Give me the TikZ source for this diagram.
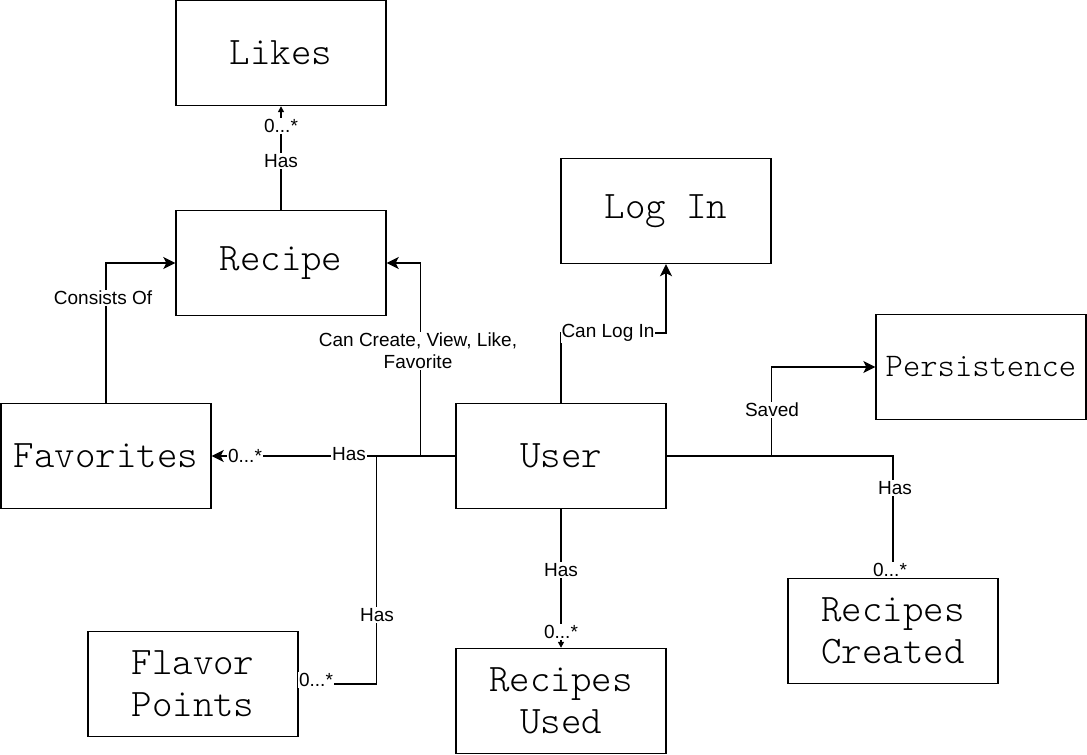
\documentclass[tikz,border=0pt]{standalone}
\usepackage{fontspec}
\setmainfont{Liberation Sans}
\newfontfamily\boxfont{Latin Modern Mono Light}
\usetikzlibrary{arrows.meta}
\begin{document}
\begin{tikzpicture}[x=1pt,y=-1pt,
  entity/.style={draw, line width=1.4pt, minimum width=210pt, minimum height=105pt,
     inner sep=0pt, align=center, font=\boxfont\fontsize{39}{42}\selectfont},
  conn/.style={line width=1.4pt},
  bigtip/.style={conn, -{Stealth[length=12pt,width=12pt,inset=3pt]}},
  smalltip/.style={conn, -{Triangle[length=6pt,width=6pt]}},
  lbl/.style={fill=white, inner sep=1pt, font=\fontsize{19}{22}\selectfont, align=center}]
\useasboundingbox (0,0) rectangle (1087,755);
\fill[white] (0,0) rectangle (1087,755);

\node[entity] (likes)   at (281,53)   {Likes};
\node[entity] (recipe)  at (281,263)  {Recipe};
\node[entity] (login)   at (666,211)  {Log In};
\node[entity, font=\boxfont\fontsize{33}{40}\selectfont] (persist) at (981,367)  {Persistence};
\node[entity] (fav)     at (106,456)  {Favorites};
\node[entity] (user)    at (561,456)  {User};
\node[entity] (flavor)  at (193,684)  {Flavor\\Points};
\node[entity] (used)    at (561,701)  {Recipes\\Used};
\node[entity] (created) at (893,631)  {Recipes\\Created};

% Recipe -> Likes
\draw[smalltip] (recipe.north) -- (likes.south);
\node[lbl] (l1a) at (281,161) {Has};
\node[lbl] (l1b) at (281,126) {0...*};

% Favorites -> Recipe
\draw[bigtip] (fav.north) |- (recipe.west);
\node[lbl] (l2) at (103,298) {Consists Of};

% User -> Recipe
\draw[bigtip] (user.west) -- ++(-35,0) |- (recipe.east);
\node[lbl] (l3) at (418,351) {Can Create, View, Like,\\Favorite};

% User -> Favorites
\draw[bigtip] (user.west) -- (fav.east);
\node[lbl] (l4a) at (349,454) {Has};
\node[lbl] (l4b) at (245,456) {0...*};

% User -> Flavor Points
\draw[smalltip] (user.west) -- ++(-79,0) |- (flavor.east);
\node[lbl] (l5a) at (377,615) {Has};
\node[lbl] (l5b) at (316,680) {0...*};

% User -> Log In
\draw[bigtip] (user.north) -- ++(0,-70) -| (login.south);
\node[lbl] (l6) at (608,333) {Can Log In};

% User -> Persistence
\draw[bigtip] (user.east) -- ++(105,0) |- (persist.west);
\node[lbl] (l7) at (772,410) {Saved};

% User -> Recipes Created
\draw[smalltip] (user.east) -| (created.north);
\node[lbl] (l8a) at (895,488) {Has};
\node[lbl] (l8b) at (890,570) {0...*};

% User -> Recipes Used
\draw[smalltip] (user.south) -- (used.north);
\node[lbl] (l9a) at (561,570) {Has};
\node[lbl] (l9b) at (561,632) {0...*};
\end{tikzpicture}
\end{document}
